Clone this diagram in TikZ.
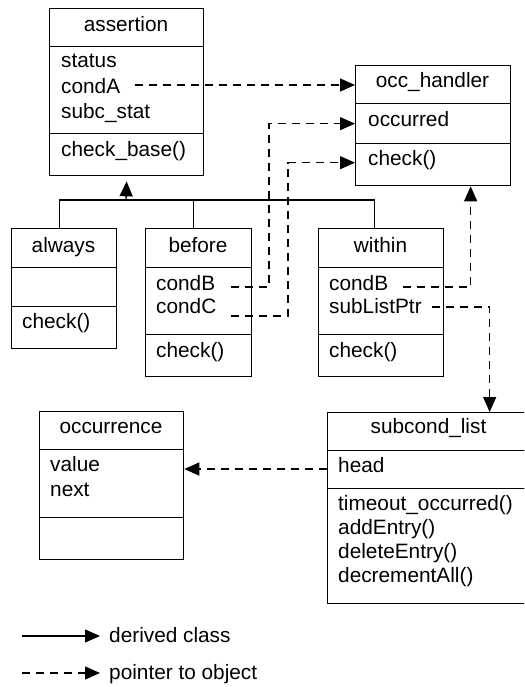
\documentclass[tikz,border=0pt]{standalone}
\usepackage{fontspec}
\setmainfont{Liberation Sans}
\usetikzlibrary{arrows.meta}
\begin{document}
\begin{tikzpicture}[x=1pt,y=-1pt,
  comp/.style 2 args={draw, line width=1.3pt, anchor=north west, inner sep=0pt,
    minimum width=#1, minimum height=#2},
  txt/.style={anchor=base west, inner sep=0pt, font=\fontsize{20.8}{24}\selectfont},
  ttl/.style={anchor=base, inner sep=0pt, font=\fontsize{20.8}{24}\selectfont},
  tip/.style={-{Triangle[length=15pt,width=13pt]}},
  ptr/.style={tip, line width=1.3pt, dash pattern=on 8pt off 6pt},
  inh/.style={tip, line width=1.3pt},
  bar/.style={line width=1.3pt}]
\path[use as bounding box, clip] (0,0) rectangle (524,687);

% assertion
\node[comp={154pt}{38pt}] (as-t) at (49,8) {};
\node[comp={154pt}{87pt}] (as-a) at (49,46) {};
\node[comp={154pt}{42pt}] (as-m) at (49,133) {};
\node[ttl] (as-n) at (126,32) {assertion};
\node[txt] (as-1) at (61,68) {status};
\node[txt] (as-2) at (61,94) {condA};
\node[txt] (as-3) at (61,119) {subc\_stat};
\node[txt] (as-4) at (61,157) {check\_base()};

% occ_handler
\node[comp={155pt}{38pt}] (oc-t) at (355,65) {};
\node[comp={155pt}{40pt}] (oc-a) at (355,103) {};
\node[comp={155pt}{42pt}] (oc-m) at (355,143) {};
\node[ttl] (oc-n) at (432.5,88) {occ\_handler};
\node[txt] (oc-1) at (368,127) {occurred};
\node[txt] (oc-2) at (368,166) {check()};

% always
\node[comp={105pt}{39pt}] (al-t) at (11,228) {};
\node[comp={105pt}{39pt}] (al-a) at (11,267) {};
\node[comp={105pt}{42pt}] (al-m) at (11,306) {};
\node[ttl] (al-n) at (63.5,252) {always};
\node[txt] (al-1) at (22,328) {check()};

% before
\node[comp={106pt}{39pt}] (be-t) at (145,228) {};
\node[comp={106pt}{67pt}] (be-a) at (145,267) {};
\node[comp={106pt}{42pt}] (be-m) at (145,334) {};
\node[ttl] (be-n) at (198,252) {before};
\node[txt] (be-1) at (156,290) {condB};
\node[txt] (be-2) at (156,313) {condC};
\node[txt] (be-3) at (156,357) {check()};

% within
\node[comp={125pt}{39pt}] (wi-t) at (318,228) {};
\node[comp={125pt}{67pt}] (wi-a) at (318,267) {};
\node[comp={125pt}{42pt}] (wi-m) at (318,334) {};
\node[ttl] (wi-n) at (380.5,252) {within};
\node[txt] (wi-1) at (329,290) {condB};
\node[txt] (wi-2) at (329,313) {subListPtr};
\node[txt] (wi-3) at (329,357) {check()};

% occurrence
\node[comp={144pt}{38pt}] (or-t) at (39,411) {};
\node[comp={144pt}{68pt}] (or-a) at (39,449) {};
\node[comp={144pt}{42pt}] (or-m) at (39,517) {};
\node[ttl] (or-n) at (111,433) {occurrence};
\node[txt] (or-1) at (50,471) {value};
\node[txt] (or-2) at (50,496) {next};

% subcond_list
\node[comp={203pt}{38pt}] (su-t) at (327,412) {};
\node[comp={203pt}{38pt}] (su-a) at (327,450) {};
\node[comp={203pt}{115pt}] (su-m) at (327,488) {};
\node[ttl] (su-n) at (428.5,433) {subcond\_list};
\node[txt] (su-1) at (338,472) {head};
\node[txt] (su-2) at (338,510) {timeout\_occurred()};
\node[txt] (su-3) at (338,534) {addEntry()};
\node[txt] (su-4) at (338,558) {deleteEntry()};
\node[txt] (su-5) at (338,582) {decrementAll()};

% inheritance
\coordinate (bar) at (126,200);
\draw[bar] ([xshift=-4.5pt]al-t.north) |- ([xshift=-6.5pt]wi-t.north |- bar) -- ([xshift=-6.5pt]wi-t.north);
\draw[bar] ([xshift=-5pt]be-t.north) -- ([xshift=-5pt]be-t.north |- bar);
\draw[inh] (bar) -- ([yshift=-5pt]as-m.south);

% pointers
\coordinate (pA) at (135,85);
\coordinate (pB) at (231,287);
\coordinate (pC) at (231,316);
\coordinate (pW) at (403,287);
\coordinate (pS) at (432,307);
\coordinate (pH) at (327,469);
\draw[ptr] (pA) -- (pA -| oc-t.west);
\draw[ptr] (pB) -| ([xshift=-86pt]oc-a.west) -- (oc-a.west);
\draw[ptr] (pC) -| ([xshift=-67pt,yshift=2pt]oc-m.west) -- ([yshift=2pt]oc-m.west);
\draw[ptr] (pW) -| ([xshift=37.5pt]oc-m.south);
\draw[ptr] (pS) -| ([xshift=60.5pt]su-t.north);
\draw[ptr] (pH) -- (pH -| or-a.east);

% legend
\node[txt] (lg1) at (109,642) {derived class};
\node[txt] (lg2) at (109,679) {pointer to object};
\coordinate (l1) at (22,636);
\coordinate (l2) at (22,673);
\draw[inh] (l1) -- ([xshift=-9pt]l1 -| lg1.west);
\draw[ptr] (l2) -- ([xshift=-9pt]l2 -| lg2.west);
\end{tikzpicture}
\end{document}
